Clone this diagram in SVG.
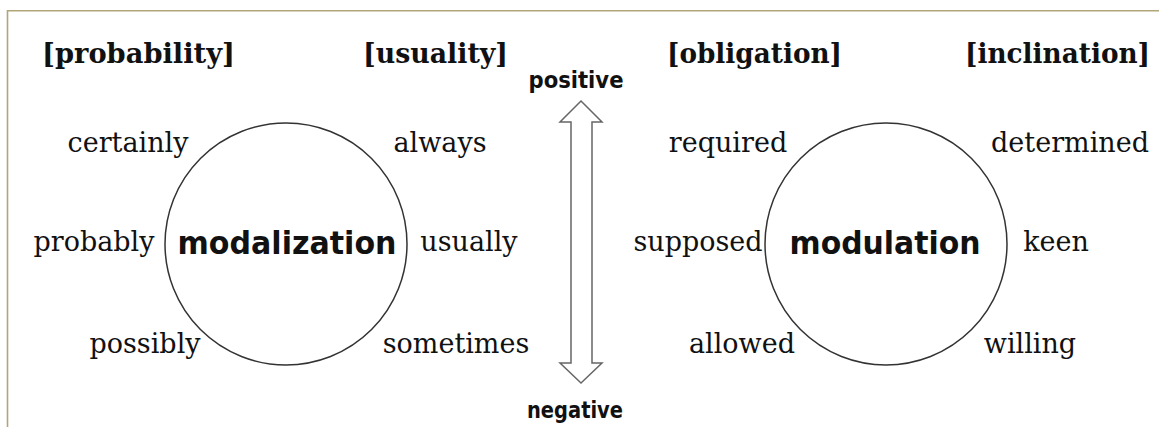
<svg xmlns="http://www.w3.org/2000/svg" width="1159" height="427" viewBox="0 0 1159 427">
  <style>
    .frame { fill: none; stroke: #b0a67a; stroke-width: 1.6; }
    .circle { fill: #ffffff; stroke: #333333; stroke-width: 1.5; }
    .hdr { font-family: "DejaVu Serif", "Liberation Serif", serif; font-weight: bold; font-size: 27px; fill: #111111; }
    .lbl { font-family: "DejaVu Serif", "Liberation Serif", serif; font-size: 27px; fill: #111111; text-anchor: middle; }
    .core { font-family: "DejaVu Sans", "Liberation Sans", sans-serif; font-weight: bold; font-size: 32px; fill: #111111; text-anchor: middle; }
    .pole { font-family: "DejaVu Sans", "Liberation Sans", sans-serif; font-weight: bold; font-size: 23px; fill: #111111; text-anchor: middle; }
    .arrow { fill: #ffffff; stroke: #666666; stroke-width: 1.5; stroke-linejoin: miter; }
  </style>
  <rect width="1159" height="427" fill="#ffffff"/>
  <path class="frame" d="M7.5,427 V10.8 H1159"/>

  <g id="headers">
    <text class="hdr" x="42" y="63" textLength="193" lengthAdjust="spacingAndGlyphs">[probability]</text>
    <text class="hdr" x="363" y="63" textLength="145" lengthAdjust="spacingAndGlyphs">[usuality]</text>
    <text class="hdr" x="667" y="63" textLength="175" lengthAdjust="spacingAndGlyphs">[obligation]</text>
    <text class="hdr" x="965" y="63" textLength="185" lengthAdjust="spacingAndGlyphs">[inclination]</text>
  </g>

  <g id="modalization">
    <circle class="circle" cx="286" cy="244" r="121"/>
    <text class="core" x="287" y="254" textLength="219" lengthAdjust="spacingAndGlyphs">modalization</text>
    <text class="lbl" x="128" y="152">certainly</text>
    <text class="lbl" x="440" y="152">always</text>
    <text class="lbl" x="94" y="251">probably</text>
    <text class="lbl" x="469" y="251">usually</text>
    <text class="lbl" x="145" y="353">possibly</text>
    <text class="lbl" x="456" y="353">sometimes</text>
  </g>

  <g id="modulation">
    <circle class="circle" cx="886" cy="244" r="121"/>
    <text class="core" x="885" y="254" textLength="191" lengthAdjust="spacingAndGlyphs">modulation</text>
    <text class="lbl" x="728" y="152">required</text>
    <text class="lbl" x="1070" y="152">determined</text>
    <text class="lbl" x="698" y="251">supposed</text>
    <text class="lbl" x="1056" y="251">keen</text>
    <text class="lbl" x="742" y="353">allowed</text>
    <text class="lbl" x="1030" y="353">willing</text>
  </g>

  <g id="scale">
    <text class="pole" x="576" y="88" textLength="95" lengthAdjust="spacingAndGlyphs">positive</text>
    <text class="pole" x="575" y="418" textLength="96" lengthAdjust="spacingAndGlyphs">negative</text>
  </g>

  <g id="connectors">
    <polygon class="arrow" points="581,101 602,122 592,122 592,363 602,363 581,383 560,363 571,363 571,122 560,122"/>
  </g>
</svg>
